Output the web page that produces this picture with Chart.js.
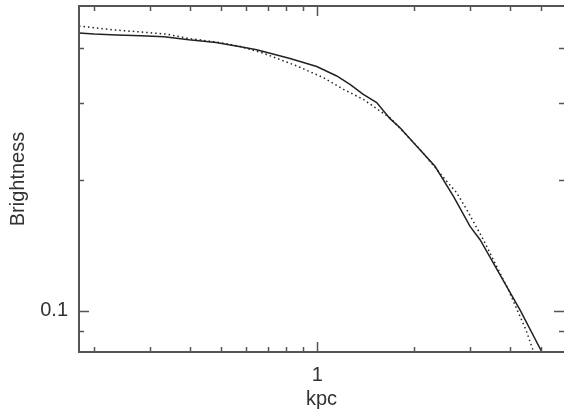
<!DOCTYPE html>
<html>
<head>
<meta charset="utf-8">
<script src="https://cdn.jsdelivr.net/npm/chart.js@4.4.1/dist/chart.umd.min.js"></script>
<style>
  html, body { margin: 0; padding: 0; background: #fff; overflow: hidden; }
  #wrap { width: 564px; height: 414px; }
</style>
</head>
<body>
<div id="wrap"><canvas id="myChart" width="564" height="414"></canvas></div>
<script>
// Perfil observado (linea continua), radio en kpc
const radiusObs = [0.180, 0.2005, 0.2366, 0.2812, 0.3319, 0.3972, 0.4826, 0.5692, 0.6465, 0.8218,
    0.9957, 1.150, 1.265, 1.392, 1.533, 1.687, 1.813, 2.045, 2.332, 2.661,
    3.001, 3.225, 3.908, 4.299, 5.027, 5.259];
const brightnessObs = [0.4334, 0.4311, 0.4288, 0.4272, 0.4249, 0.4182, 0.4125, 0.4039, 0.3967, 0.3790,
    0.3633, 0.3456, 0.3307, 0.3137, 0.3003, 0.2759, 0.2630, 0.2385, 0.2146, 0.1832,
    0.1562, 0.1456, 0.1137, 0.1005, 0.0806, 0.0755];

// Modelo (linea punteada)
const radiusModel = [0.180, 0.2283, 0.2915, 0.3367, 0.3972, 0.4931, 0.5692, 0.6779, 0.8622, 1.044,
    1.206, 1.392, 1.570, 1.687, 2.094, 2.388, 2.537, 2.727, 2.930, 3.303,
    3.548, 3.953, 4.238, 4.489, 4.732, 4.861];
const brightnessModel = [0.4497, 0.4410, 0.4350, 0.4311, 0.4213, 0.4125, 0.4045, 0.3898, 0.3644, 0.3426,
    0.3221, 0.3055, 0.2872, 0.2773, 0.2345, 0.2090, 0.1982, 0.1865, 0.1707, 0.1456,
    0.1310, 0.1118, 0.0995, 0.0904, 0.0809, 0.0763];

// Ticks
const xLabels = [1];
const xMinor = [0.2, 0.3, 0.4, 0.5, 0.6, 0.7, 0.8, 0.9, 2, 3, 4, 5];
const yLabels = [0.1];
const yMinor = [0.09, 0.2, 0.3, 0.4];

const axisColor = '#555';
const textColor = '#333';
const font = { family: 'Liberation Sans', size: 20 };

function toPoints(xs, ys) {
    return xs.map((x, i) => ({ x: x, y: ys[i] }));
}

// marco y ticks hacia adentro (estilo IDL); el borde derecho queda fuera de la imagen
const frameTicks = {
    id: 'frameTicks',
    afterDraw(chart) {
        const ctx = chart.ctx;
        const a = chart.chartArea;
        const xs = chart.scales.x;
        const ys = chart.scales.y;
        ctx.save();
        ctx.strokeStyle = axisColor;
        ctx.lineWidth = 1.5;
        ctx.beginPath();
        function xTick(v, len) {
            const px = Math.round(xs.getPixelForValue(v)) + 0.5;
            ctx.moveTo(px, a.bottom); ctx.lineTo(px, a.bottom - len);
            ctx.moveTo(px, a.top); ctx.lineTo(px, a.top + len);
        }
        function yTick(v, len) {
            const py = Math.round(ys.getPixelForValue(v)) + 0.5;
            ctx.moveTo(a.left, py); ctx.lineTo(a.left + len, py);
            ctx.moveTo(a.right, py); ctx.lineTo(a.right - len, py);
        }
        xMinor.forEach(v => xTick(v, 5));
        xLabels.forEach(v => xTick(v, 10));
        yMinor.forEach(v => yTick(v, 5));
        yLabels.forEach(v => yTick(v, 10));
        ctx.stroke();
        ctx.lineWidth = 2;
        ctx.beginPath();
        ctx.moveTo(a.right, a.top);
        ctx.lineTo(a.left, a.top);
        ctx.lineTo(a.left, a.bottom);
        ctx.lineTo(a.right, a.bottom);
        ctx.stroke();
        ctx.restore();
    }
};

function noPad(s) {
    s.paddingTop = 0;
    s.paddingBottom = 0;
    s.paddingLeft = 0;
    s.paddingRight = 0;
}

const config = {
    type: 'scatter',
    data: {
        datasets: [{
            data: toPoints(radiusObs, brightnessObs),
            showLine: true,
            borderColor: '#222',
            borderWidth: 1.5,
            pointRadius: 0
        }, {
            data: toPoints(radiusModel, brightnessModel),
            showLine: true,
            borderColor: '#222',
            borderWidth: 1.5,
            borderDash: [1.5, 3],
            pointRadius: 0
        }]
    },
    options: {
        responsive: false,
        animation: false,
        devicePixelRatio: 1,
        layout: { padding: { top: 6, right: 0, left: 0, bottom: 0 } },
        plugins: { legend: { display: false }, tooltip: { enabled: false } },
        scales: {
            x: {
                type: 'logarithmic',
                min: 0.18,
                max: 5.9,
                afterBuildTicks: s => { s.ticks = xLabels.map(v => ({ value: v })); },
                afterFit: s => { s.height = 62; noPad(s); },
                ticks: { callback: v => String(v), color: textColor, font: font, padding: 11, maxRotation: 0, autoSkip: false },
                grid: { display: false, drawTicks: false },
                border: { display: false },
                title: { display: true, text: 'kpc', color: textColor, font: font, padding: { top: 0, bottom: 3 } }
            },
            y: {
                type: 'logarithmic',
                min: 0.0805,
                max: 0.5,
                afterBuildTicks: s => { s.ticks = yLabels.map(v => ({ value: v })); },
                afterFit: s => { s.width = 79; noPad(s); },
                ticks: { callback: v => String(v), color: textColor, font: font, padding: 11 },
                grid: { display: false, drawTicks: false },
                border: { display: false },
                title: { display: true, text: 'Brightness', color: textColor, font: font, padding: { top: 6, bottom: 0 } }
            }
        }
    },
    plugins: [frameTicks]
};

var myChart = new Chart(document.getElementById('myChart'), config);
</script>
</body>
</html>
